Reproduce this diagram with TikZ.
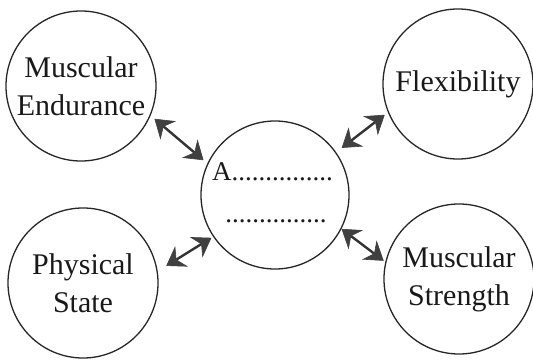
\documentclass[tikz,border=0pt]{standalone}
\usepackage{fontspec}
\setmainfont{Liberation Serif}
\usetikzlibrary{arrows.meta}
\tikzset{
  bubble/.style={draw=black!85, line width=1.3pt, circle, minimum size=150pt, inner sep=0pt,
    align=center, font=\fontsize{30}{38}\selectfont, text=black!90},
  bigtip/.tip={Stealth[length=18pt,width=24pt,inset=6pt,line width=0.6pt,color=black!75,fill=black!75]},
  link/.style={draw=black!80, line width=2.4pt, bigtip-bigtip},
  dots/.style={font=\fontsize{27}{30}\selectfont, text=black!90, inner sep=0pt}
}
\begin{document}
\begin{tikzpicture}[x=1pt,y=1pt]
\useasboundingbox (0,0) rectangle (533,360);
\node[bubble, minimum size=148pt] (c) at (275,165) {};
\node[bubble] (tl) at (81,274) {Muscular\\Endurance};
\node[bubble] (tr) at (458,276) {Flexibility};
\node[bubble] (bl) at (83,77) {Physical\\State};
\node[bubble] (br) at (459,81) {Muscular\\Strength};
\node[dots, anchor=base west] (a) at (212,180) {A...............};
\node[dots, anchor=base] (b) at (276,138) {...............};
\draw[link, shorten <=5pt, shorten >=5pt] (c.155) -- (tl.-23);
\draw[link, shorten <=7pt, shorten >=4pt] (c.35) -- (tr.-158);
\draw[link, shorten <=2pt, shorten >=10pt] (c.-146) -- (bl.9);
\draw[link, shorten <=0pt, shorten >=2pt] (c.-27) -- (br.167);
\end{tikzpicture}
\end{document}
